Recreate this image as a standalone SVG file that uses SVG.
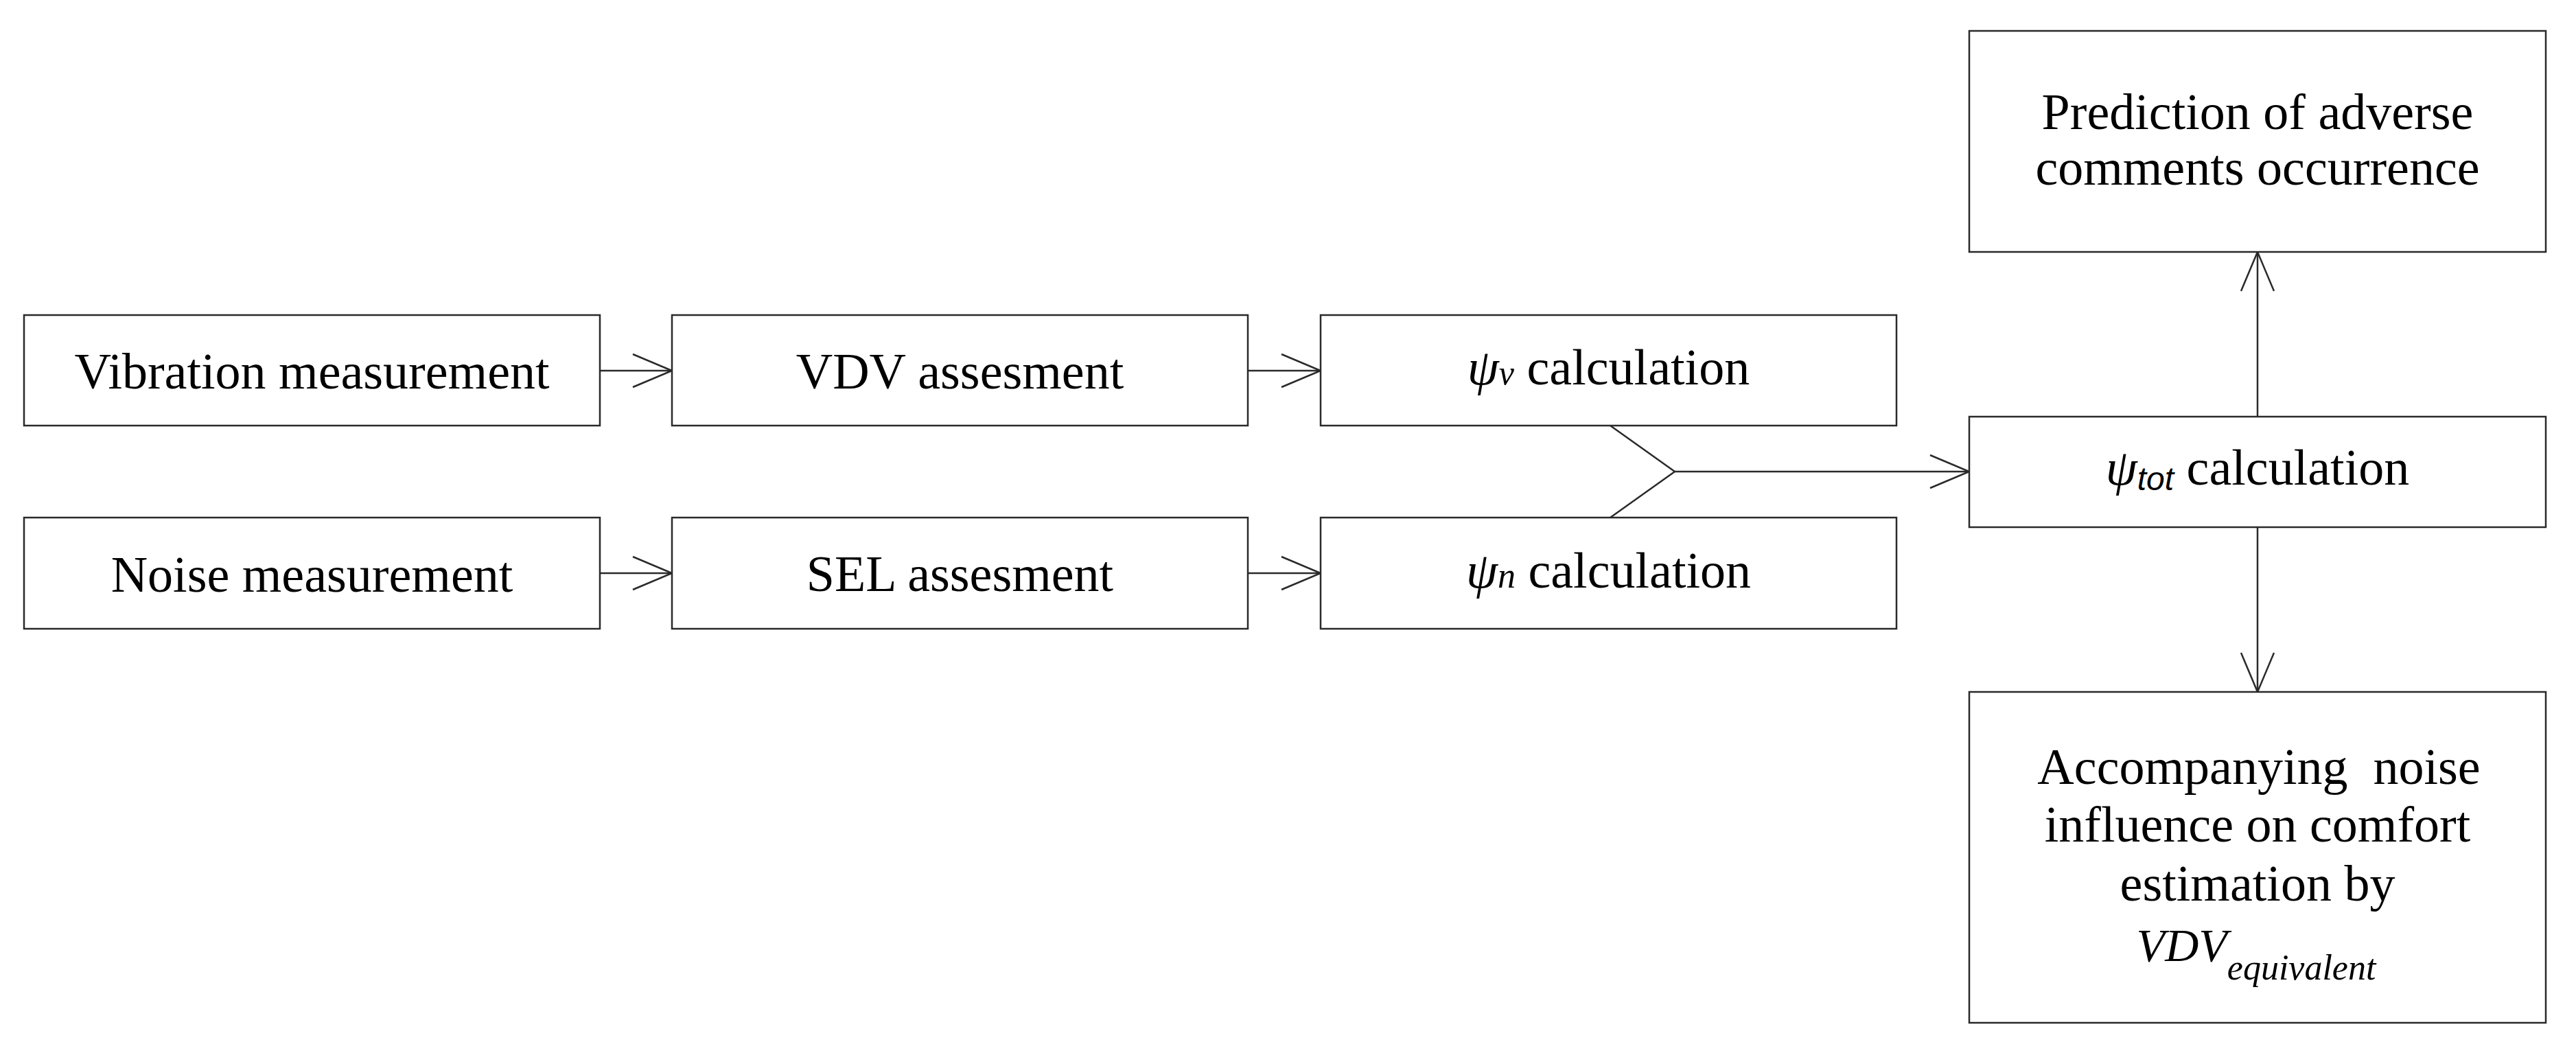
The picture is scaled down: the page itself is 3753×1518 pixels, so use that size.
<svg xmlns="http://www.w3.org/2000/svg" width="3753" height="1518" viewBox="0 0 3753 1518">
<style>
.box{fill:#ffffff;stroke:#2a2a2a;stroke-width:2.5}
.lbl{font-family:"Liberation Serif","Times New Roman",serif;font-size:74px;fill:#000000;text-anchor:middle}
.it{font-style:italic}
.conn{fill:none;stroke:#2a2a2a;stroke-width:2.5}
</style>
<defs>
<marker id="arr" markerUnits="userSpaceOnUse" viewBox="-62 -30 66 60" markerWidth="66" markerHeight="60" refX="0" refY="0" orient="auto">
<path d="M -57 -24 L 0 0 L -57 24" fill="none" stroke="#2a2a2a" stroke-width="2.5"/>
</marker>
</defs>
<rect width="3753" height="1518" fill="#ffffff"/>
<g id="connectors">
<line class="conn" x1="874" y1="540" x2="979" y2="540" marker-end="url(#arr)"/>
<line class="conn" x1="874" y1="835" x2="979" y2="835" marker-end="url(#arr)"/>
<line class="conn" x1="1818" y1="540" x2="1924" y2="540" marker-end="url(#arr)"/>
<line class="conn" x1="1818" y1="835" x2="1924" y2="835" marker-end="url(#arr)"/>
<polyline class="conn" points="2346,620 2440,687 2346,754"/>
<line class="conn" x1="2440" y1="687" x2="2869" y2="687" marker-end="url(#arr)"/>
<line class="conn" x1="3289" y1="607" x2="3289" y2="367" marker-end="url(#arr)"/>
<line class="conn" x1="3289" y1="768" x2="3289" y2="1008" marker-end="url(#arr)"/>
</g>
<g id="vibration-measurement">
<rect class="box" x="35" y="459" width="839" height="161"/>
<text class="lbl" x="454.5" y="566">Vibration measurement</text>
</g>
<g id="noise-measurement">
<rect class="box" x="35" y="754" width="839" height="162"/>
<text class="lbl" x="454.5" y="862">Noise measurement</text>
</g>
<g id="vdv-assesment">
<rect class="box" x="979" y="459" width="839" height="161"/>
<text class="lbl" x="1398.5" y="566">VDV assesment</text>
</g>
<g id="sel-assesment">
<rect class="box" x="979" y="754" width="839" height="162"/>
<text class="lbl" x="1398.5" y="861">SEL assesment</text>
</g>
<g id="psi-v-calculation">
<rect class="box" x="1924" y="459" width="839" height="161"/>
<text class="lbl" x="2343.5" y="560"><tspan class="it">ψ</tspan><tspan class="it" font-size="50">v</tspan> calculation</text>
</g>
<g id="psi-n-calculation">
<rect class="box" x="1924" y="754" width="839" height="162"/>
<text class="lbl" x="2343.5" y="856"><tspan class="it">ψ</tspan><tspan class="it" font-size="52">n</tspan> calculation</text>
</g>
<g id="psi-tot-calculation">
<rect class="box" x="2869" y="607" width="840" height="161"/>
<text class="lbl" x="3289" y="706"><tspan class="it">ψ</tspan><tspan class="it" font-size="48" font-family="Liberation Sans, Arial, sans-serif" dy="8">tot</tspan><tspan dy="-8"> calculation</tspan></text>
</g>
<g id="prediction">
<rect class="box" x="2869" y="45" width="840" height="322"/>
<text class="lbl" x="3289" y="188">Prediction of adverse</text>
<text class="lbl" x="3289" y="269">comments occurrence</text>
</g>
<g id="accompanying-noise">
<rect class="box" x="2869" y="1008" width="840" height="482"/>
<text class="lbl" x="3291" y="1142" xml:space="preserve">Accompanying  noise</text>
<text class="lbl" x="3289" y="1226">influence on comfort</text>
<text class="lbl" x="3289" y="1312">estimation by</text>
<text class="lbl" x="3287" y="1400"><tspan class="it" font-size="68">VDV</tspan><tspan class="it" font-size="52" dy="27">equivalent</tspan></text>
</g>
</svg>
